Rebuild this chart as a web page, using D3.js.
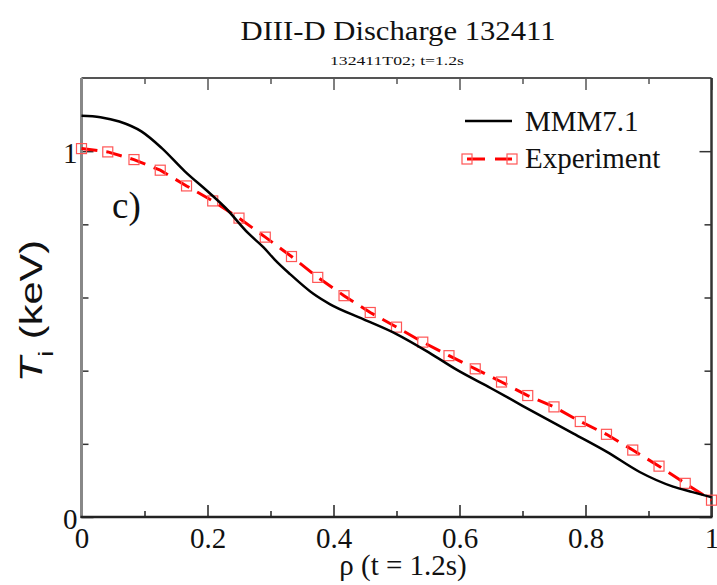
<!DOCTYPE html>
<html><head><meta charset="utf-8">
<script src="https://cdn.jsdelivr.net/npm/d3@7"></script>
<style>body{margin:0;background:#fff}</style>
</head><body>
<svg id="c" width="717" height="585"></svg>
<script>
// ---- data ----
const titleText = "DIII-D Discharge 132411";
const subtitleText = "132411T02; t=1.2s";
const panelLabel = "c)";
const xTicksMajor = [0, 0.2, 0.4, 0.6, 0.8, 1];
const xTickLabels = ["0", "0.2", "0.4", "0.6", "0.8", "1"];
const xTicksMinor = [0.1, 0.3, 0.5, 0.7, 0.9];
const yTicksMajor = [0, 1];
const yTickLabels = ["0", "1"];
const yTicksMinor = [0.2, 0.4, 0.6, 0.8];
const seriesNames = ["MMM7.1", "Experiment"];
const mmmRho = [0, 0.03, 0.06, 0.095, 0.127, 0.164, 0.201, 0.228, 0.265, 0.289, 0.307, 0.331, 0.368, 0.394, 0.447, 0.5, 0.553, 0.596, 0.65, 0.7, 0.781, 0.834, 0.886, 0.939, 0.97, 1.0];
const mmmTi  = [1.097, 1.093, 1.081, 1.054, 1.009, 0.945, 0.889, 0.846, 0.775, 0.737, 0.703, 0.664, 0.610, 0.582, 0.541, 0.500, 0.448, 0.402, 0.352, 0.304, 0.228, 0.178, 0.123, 0.083, 0.068, 0.054];
const expRho = [0, 0.0417, 0.0833, 0.125, 0.1667, 0.2083, 0.25, 0.2917, 0.3333, 0.375, 0.4167, 0.4583, 0.5, 0.5417, 0.5833, 0.625, 0.6667, 0.7083, 0.75, 0.7917, 0.8333, 0.875, 0.9167, 0.9583, 1.0];
const expTi  = [1.007, 0.998, 0.977, 0.948, 0.905, 0.864, 0.817, 0.765, 0.712, 0.655, 0.605, 0.559, 0.519, 0.478, 0.441, 0.405, 0.369, 0.332, 0.301, 0.261, 0.226, 0.183, 0.139, 0.092, 0.046];

// ---- drawing ----
const svg = d3.select("#c");
const L = 81.5, R = 711.5, T = 78, B = 517;
const x = d3.scaleLinear().domain([0, 1]).range([L, R]);
const y = d3.scaleLinear().domain([0, 1.2]).range([B, T]);
const serif = "'Liberation Serif', 'Times New Roman', serif";
const sans = "'Liberation Sans', Arial, sans-serif";

// title
svg.append("text").attr("x", 398).attr("y", 40).attr("text-anchor", "middle")
  .attr("font-family", serif).attr("font-size", 27).attr("fill", "#111")
  .attr("textLength", 315).attr("lengthAdjust", "spacingAndGlyphs").text(titleText);
svg.append("text").attr("x", 397).attr("y", 65).attr("text-anchor", "middle")
  .attr("font-family", serif).attr("font-size", 12).attr("fill", "#111")
  .attr("textLength", 134).attr("lengthAdjust", "spacingAndGlyphs").text(subtitleText);

// axes with inward ticks
function styleAxis(g, color, w) {
  g.select(".domain").remove();
  g.selectAll("line").attr("stroke", color).attr("stroke-width", w);
  g.selectAll("text").attr("font-family", serif).attr("font-size", 29).attr("fill", "#111");
}
const gxB = svg.append("g").attr("transform", `translate(0,${B})`)
  .call(d3.axisBottom(x).tickValues(xTicksMajor).tickSizeInner(-12).tickSizeOuter(0).tickPadding(10)
    .tickFormat((d, i) => xTickLabels[i]));
styleAxis(gxB, "#222", 1.5);
const gxBm = svg.append("g").attr("transform", `translate(0,${B})`)
  .call(d3.axisBottom(x).tickValues(xTicksMinor).tickSizeInner(-6).tickSizeOuter(0).tickFormat(""));
styleAxis(gxBm, "#222", 1.5);
const gxT = svg.append("g").attr("transform", `translate(0,${T})`)
  .call(d3.axisTop(x).tickValues(xTicksMajor).tickSizeInner(-12).tickSizeOuter(0).tickFormat(""));
styleAxis(gxT, "#555", 1.5);
const gxTm = svg.append("g").attr("transform", `translate(0,${T})`)
  .call(d3.axisTop(x).tickValues(xTicksMinor).tickSizeInner(-6).tickSizeOuter(0).tickFormat(""));
styleAxis(gxTm, "#555", 1.5);

const gyL = svg.append("g").attr("transform", `translate(${L},0)`)
  .call(d3.axisLeft(y).tickValues(yTicksMajor).tickSizeInner(-12).tickSizeOuter(0).tickPadding(4)
    .tickFormat((d, i) => yTickLabels[i]));
styleAxis(gyL, "#333", 1.5);
gyL.selectAll("text").attr("dy", "0.38em");
const gyLm = svg.append("g").attr("transform", `translate(${L},0)`)
  .call(d3.axisLeft(y).tickValues(yTicksMinor).tickSizeInner(-7).tickSizeOuter(0).tickFormat(""));
styleAxis(gyLm, "#333", 1.5);
const gyR = svg.append("g").attr("transform", `translate(${R},0)`)
  .call(d3.axisRight(y).tickValues(yTicksMajor).tickSizeInner(-12).tickSizeOuter(0).tickFormat(""));
styleAxis(gyR, "#333", 1.5);
const gyRm = svg.append("g").attr("transform", `translate(${R},0)`)
  .call(d3.axisRight(y).tickValues(yTicksMinor).tickSizeInner(-7).tickSizeOuter(0).tickFormat(""));
styleAxis(gyRm, "#333", 1.5);

// frame
svg.append("line").attr("x1", L).attr("x2", R).attr("y1", T).attr("y2", T).attr("stroke", "#555").attr("stroke-width", 2);
svg.append("line").attr("x1", R).attr("x2", R).attr("y1", T).attr("y2", B).attr("stroke", "#333").attr("stroke-width", 2.5);
svg.append("line").attr("x1", L).attr("x2", L).attr("y1", T).attr("y2", B + 1).attr("stroke", "#888").attr("stroke-width", 3);
svg.append("line").attr("x1", L - 1).attr("x2", R + 1).attr("y1", B).attr("y2", B).attr("stroke", "#222").attr("stroke-width", 2.5);

// axis titles
svg.append("text").attr("x", 403).attr("y", 575).attr("text-anchor", "middle")
  .attr("font-family", serif).attr("font-size", 29).attr("fill", "#111").text("ρ (t = 1.2s)");
const yl = svg.append("text").attr("transform", "translate(42,311) rotate(-90) scale(1.3,1)").attr("text-anchor", "middle")
  .attr("font-family", sans).attr("font-size", 32).attr("fill", "#111");
yl.append("tspan").attr("font-style", "italic").text("T");
yl.append("tspan").attr("font-size", 21).attr("dy", 11).text("i");
yl.append("tspan").attr("dy", -11).text(" (keV)");

// panel label
svg.append("text").attr("x", 112).attr("y", 218).attr("font-family", serif).attr("font-size", 37)
  .attr("fill", "#111").text(panelLabel);

// lines
const mmmData = mmmRho.map((r, i) => [r, mmmTi[i]]);
const expData = expRho.map((r, i) => [r, expTi[i]]);
const line = d3.line().x(d => x(d[0])).y(d => y(d[1])).curve(d3.curveMonotoneX);
const lineLin = d3.line().x(d => x(d[0])).y(d => y(d[1]));

svg.append("path").datum(expData).attr("d", lineLin).attr("fill", "none")
  .attr("stroke", "#ff0000").attr("stroke-width", 3).attr("stroke-dasharray", "16,9");
svg.append("g").selectAll("rect").data(expData).join("rect")
  .attr("x", d => x(d[0]) - 5).attr("y", d => y(d[1]) - 5).attr("width", 10).attr("height", 10)
  .attr("fill", "none").attr("stroke", "#ff5555").attr("stroke-width", 1.2);
svg.append("path").datum(mmmData).attr("d", line).attr("fill", "none")
  .attr("stroke", "#000").attr("stroke-width", 2.5);

// legend
const lg = svg.append("g");
lg.append("line").attr("x1", 465).attr("x2", 512).attr("y1", 121).attr("y2", 121).attr("stroke", "#000").attr("stroke-width", 2.5);
lg.append("text").attr("x", 525).attr("y", 131).attr("font-family", serif).attr("font-size", 29).attr("fill", "#111").text(seriesNames[0]);
lg.append("line").attr("x1", 467).attr("x2", 512).attr("y1", 159).attr("y2", 159).attr("stroke", "#ff0000").attr("stroke-width", 3).attr("stroke-dasharray", "18,10");
lg.selectAll("rect").data([467, 512]).join("rect").attr("x", d => d - 5).attr("y", 154).attr("width", 10).attr("height", 10)
  .attr("fill", "none").attr("stroke", "#ff5555").attr("stroke-width", 1.2);
lg.append("text").attr("x", 525).attr("y", 168).attr("font-family", serif).attr("font-size", 29).attr("fill", "#111").text(seriesNames[1]);
</script>
</body></html>
